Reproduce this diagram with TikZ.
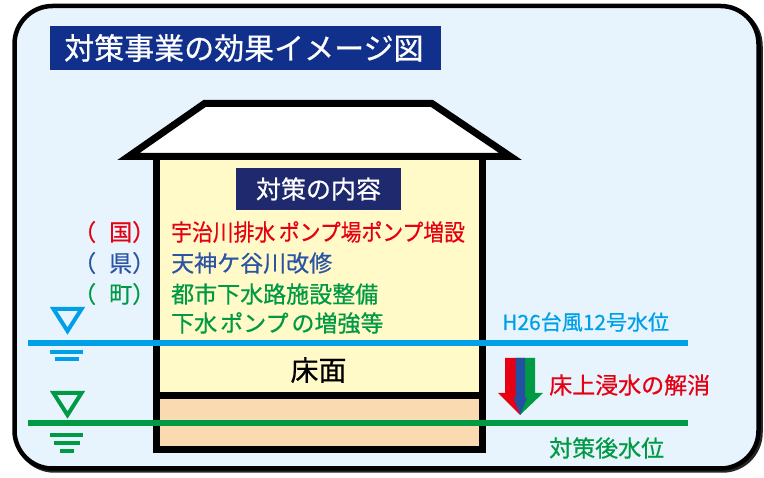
\documentclass[tikz,border=0pt]{standalone}
\usepackage{fontspec}
\setmainfont{Noto Sans CJK JP}[BoldFont={Noto Sans CJK JP},BoldFeatures={FakeBold=0.6}]
\definecolor{bgblue}{RGB}{232,244,253}
\definecolor{titleblue}{RGB}{16,48,140}
\definecolor{navy}{RGB}{31,42,110}
\definecolor{jred}{RGB}{230,0,18}
\definecolor{jblue}{RGB}{44,84,164}
\definecolor{jgreen}{RGB}{0,153,68}
\definecolor{jcyan}{RGB}{0,160,233}
\definecolor{wallyellow}{RGB}{255,250,200}
\definecolor{floorpeach}{RGB}{250,218,176}
\definecolor{arrowblue}{RGB}{35,80,160}
\tikzset{
  fs/.style={font=\fontsize{#1}{#1}\selectfont\bfseries},
  wall/.style={draw=black,line width=7pt,miter limit=20},
  level/.style={line width=6pt},
  tick/.style={line width=4pt},
  gauge/.style={line width=4pt,line join=miter},
  item/.style={anchor=west,inner sep=0pt,fs=23},
}
\begin{document}
\begin{tikzpicture}[x=1pt,y=-1pt]
\useasboundingbox (0,0) rectangle (764,478);
% outer panel with a slight shadow
\draw[line width=4.5pt,black!85,rounded corners=38pt] (16.5,8) rectangle (760.5,470.5);
\draw[line width=4.5pt,fill=bgblue,rounded corners=38pt] (14.5,6) rectangle (758.5,468.5);
% heading
\node[fill=titleblue,minimum width=391pt,minimum height=44pt,inner sep=0pt] (title) at (245.5,48) {};
\node[anchor=west,text=white,fs=30,inner sep=0pt] (titletext) at (64,48) {対策事業の効果イメージ図};
% house body, floor and roof
\fill[wallyellow] (156.5,157) rectangle (482.5,395.5);
\fill[floorpeach] (156.5,395.5) rectangle (482.5,449.5);
\draw[wall] (156.5,157) rectangle (482.5,449.5);
\draw[wall] (156.5,395.5) -- (482.5,395.5);
\draw[wall,fill=white,line join=miter] (204.5,103.5) -- (432,103.5) -- (510.5,156.5) -- (128.5,156.5) -- cycle;
% contents box
\node[fill=navy,minimum width=165pt,minimum height=42pt,inner sep=0pt] (cbox) at (318.5,189) {};
\node[text=white,fs=25,inner sep=0pt] (ctext) at (318.5,189) {対策の内容};
% measure list
\node[item,text=jred] (p1) at (73,232) {（\hspace{13pt}国）};
\node[item,text=jblue] (p2) at (73,263) {（\hspace{13pt}県）};
\node[item,text=jgreen] (p3) at (73,294) {（\hspace{13pt}町）};
\node[item,text=jred] (m1) at (171,232) {\scalebox{0.905}[1]{宇治川排水\hspace{4pt}ポンプ場ポンプ増設}};
\node[item,text=jblue] (m2) at (171,263) {天神ケ谷川改修};
\node[item,text=jgreen] (m3) at (171,294) {都市下水路施設整備};
\node[item,text=jgreen] (m4) at (171,323) {下水\hspace{3pt}ポンプ\hspace{3pt}の増強等};
\node[fs=28,inner sep=0pt] (floor) at (318.5,370) {床面};
% water level before measures
\coordinate (bl) at (28,343);
\coordinate (br) at (688,343);
\draw[level,jcyan] (bl) -- (br);
\draw[gauge,jcyan] (53.5,309) -- (81.5,309) -- (67.5,331) -- cycle;
\draw[tick,jcyan] (50,352) -- (83,352);
\draw[tick,jcyan] (55,359.5) -- (79,359.5);
\node[anchor=west,text=jcyan,fs=21,inner sep=0pt] (blabel) at (502,322) {H26台風12号水位};
% water level after measures
\coordinate (gl) at (28,423);
\coordinate (gr) at (688,423);
\draw[level,jgreen] (gl) -- (gr);
\draw[gauge,jgreen] (53.5,393) -- (81.5,393) -- (67.5,415) -- cycle;
\draw[tick,jgreen] (50,435) -- (83,435);
\draw[tick,jgreen] (54,443) -- (80,443);
\draw[tick,jgreen] (60,451.5) -- (74,451.5);
\node[anchor=west,text=jgreen,fs=23,inner sep=0pt] (glabel) at (549,448) {対策後水位};
% lowering arrow
\fill[jred] (505,358) -- (520,358) -- (520,415) -- (498,393) -- (505,393) -- cycle;
\fill[jgreen] (520,358) -- (535,358) -- (535,393) -- (543,393) -- (520,415) -- cycle;
\fill[arrowblue] (515.5,358) -- (525,358) -- (525,398) -- (527,398) -- (520.2,415) -- (513.5,398) -- (515.5,398) -- cycle;
\node[anchor=west,text=jred,fs=23,inner sep=0pt] (result) at (549,385) {床上浸水の解消};
\end{tikzpicture}
\end{document}
